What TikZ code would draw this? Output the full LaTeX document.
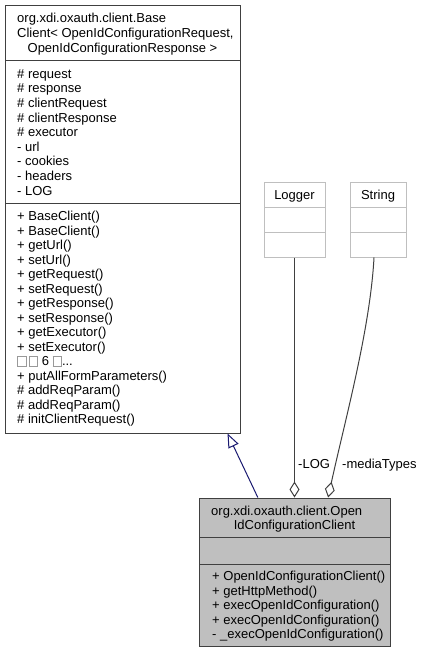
\documentclass[tikz,border=0pt]{standalone}
\usepackage{fontspec}
\setmainfont{Liberation Sans}
\usetikzlibrary{arrows.meta,calc}
\definecolor{boxline}{HTML}{404040}
\definecolor{lightline}{HTML}{BFBFBF}
\definecolor{ocfill}{HTML}{BFBFBF}
\definecolor{inh}{HTML}{191970}
\newcommand\glyphbox{\raisebox{-0.5pt}{\color{black!40}\setlength{\fboxsep}{0pt}\setlength{\fboxrule}{0.7pt}\fbox{\phantom{\rule{8pt}{10pt}}}}}
\newcommand\moreline{\glyphbox\,\glyphbox\ 6 \glyphbox...}
\tikzset{
  member/.style={anchor=west,inner sep=0pt,font=\fontsize{13}{14.5}\selectfont,text height=9pt,text depth=2.5pt,yshift=-2.5pt},
  ctext/.style={member,anchor=center},
  classbox/.style={draw=boxline,line width=1pt,inner sep=0pt,fill=white},
  extbox/.style={draw=lightline,line width=1pt,inner sep=0pt,fill=white},
  inherit/.style={draw=inh,line width=1pt,-{Triangle[open,length=14pt,width=11pt]}},
  aggr/.style={draw=boxline,line width=1pt,-{Diamond[open,length=16pt,width=10pt]}},
  lbl/.style={member}
}
\begin{document}
\begin{tikzpicture}[x=1pt,y=-1pt]
\useasboundingbox (0,0) rectangle (423,653);
% base class
\node[classbox,minimum width=235pt,minimum height=428pt] (base) at (122.5,219) {};
\draw[boxline,line width=1pt] (5,60) -- (240,60);
\draw[boxline,line width=1pt] (5,203) -- (240,203);
\node[member] (bh1) at (17,17) {org.xdi.oxauth.client.Base};
\node[member] (bh2) at (17,32) {Client< OpenIdConfigurationRequest,};
\node[ctext] (bh3) at (122.5,46.5) {OpenIdConfigurationResponse >};
\foreach \t [count=\i] in {\# request,\# response,\# clientRequest,\# clientResponse,\# executor,- url,- cookies,- headers,- LOG}
  \node[member,name=ba\i] at (17,{72.5+14.6*(\i-1)}) {\t};
\foreach \t [count=\i] in {+ BaseClient(),+ BaseClient(),+ getUrl(),+ setUrl(),+ getRequest(),+ setRequest(),+ getResponse(),+ setResponse(),+ getExecutor(),+ setExecutor(),\moreline,+ putAllFormParameters(),\# addReqParam(),\# addReqParam(),\# initClientRequest()}
  \node[member,name=bm\i] at (17,{215+14.5*(\i-1)}) {\t};
% Logger
\node[extbox,minimum width=61pt,minimum height=75pt] (logger) at (294.5,219.5) {};
\draw[lightline,line width=1pt] (264,207) -- (325,207);
\draw[lightline,line width=1pt] (264,232) -- (325,232);
\node[ctext] (lgt) at (294.5,194) {Logger};
% String
\node[extbox,minimum width=56pt,minimum height=75pt] (str) at (378,219.5) {};
\draw[lightline,line width=1pt] (350,207) -- (406,207);
\draw[lightline,line width=1pt] (350,232) -- (406,232);
\node[ctext] (stt) at (378,194) {String};
% OpenIdConfigurationClient
\node[classbox,fill=ocfill,minimum width=191pt,minimum height=148pt] (oc) at (294.5,572) {};
\draw[boxline,line width=1pt] (199,537) -- (390,537);
\draw[boxline,line width=1pt] (199,564) -- (390,564);
\node[member] (oh1) at (211,510) {org.xdi.oxauth.client.Open};
\node[ctext] (oh2) at (294.5,524) {IdConfigurationClient};
\foreach \t [count=\i] in {+ OpenIdConfigurationClient(),+ getHttpMethod(),+ execOpenIdConfiguration(),+ execOpenIdConfiguration(),- \_execOpenIdConfiguration()}
  \node[member,name=om\i] at (212,{575+14.5*(\i-1)}) {\t};
% connectors
\draw[inherit] ($(oc.north west)!0.309!(oc.north east)$) -- ($(base.south west)!0.945!(base.south east)$);
\draw[aggr] (logger.south) -- (oc.north);
\draw[aggr] ($(str.south west)!0.43!(str.south east)$) .. controls (370,330) and (345,420) .. ($(oc.north west)!0.675!(oc.north east)$);
\node[lbl] (lLOG) at (298,463) {-LOG};
\node[lbl] (lmt) at (342,463) {-mediaTypes};
\end{tikzpicture}
\end{document}
